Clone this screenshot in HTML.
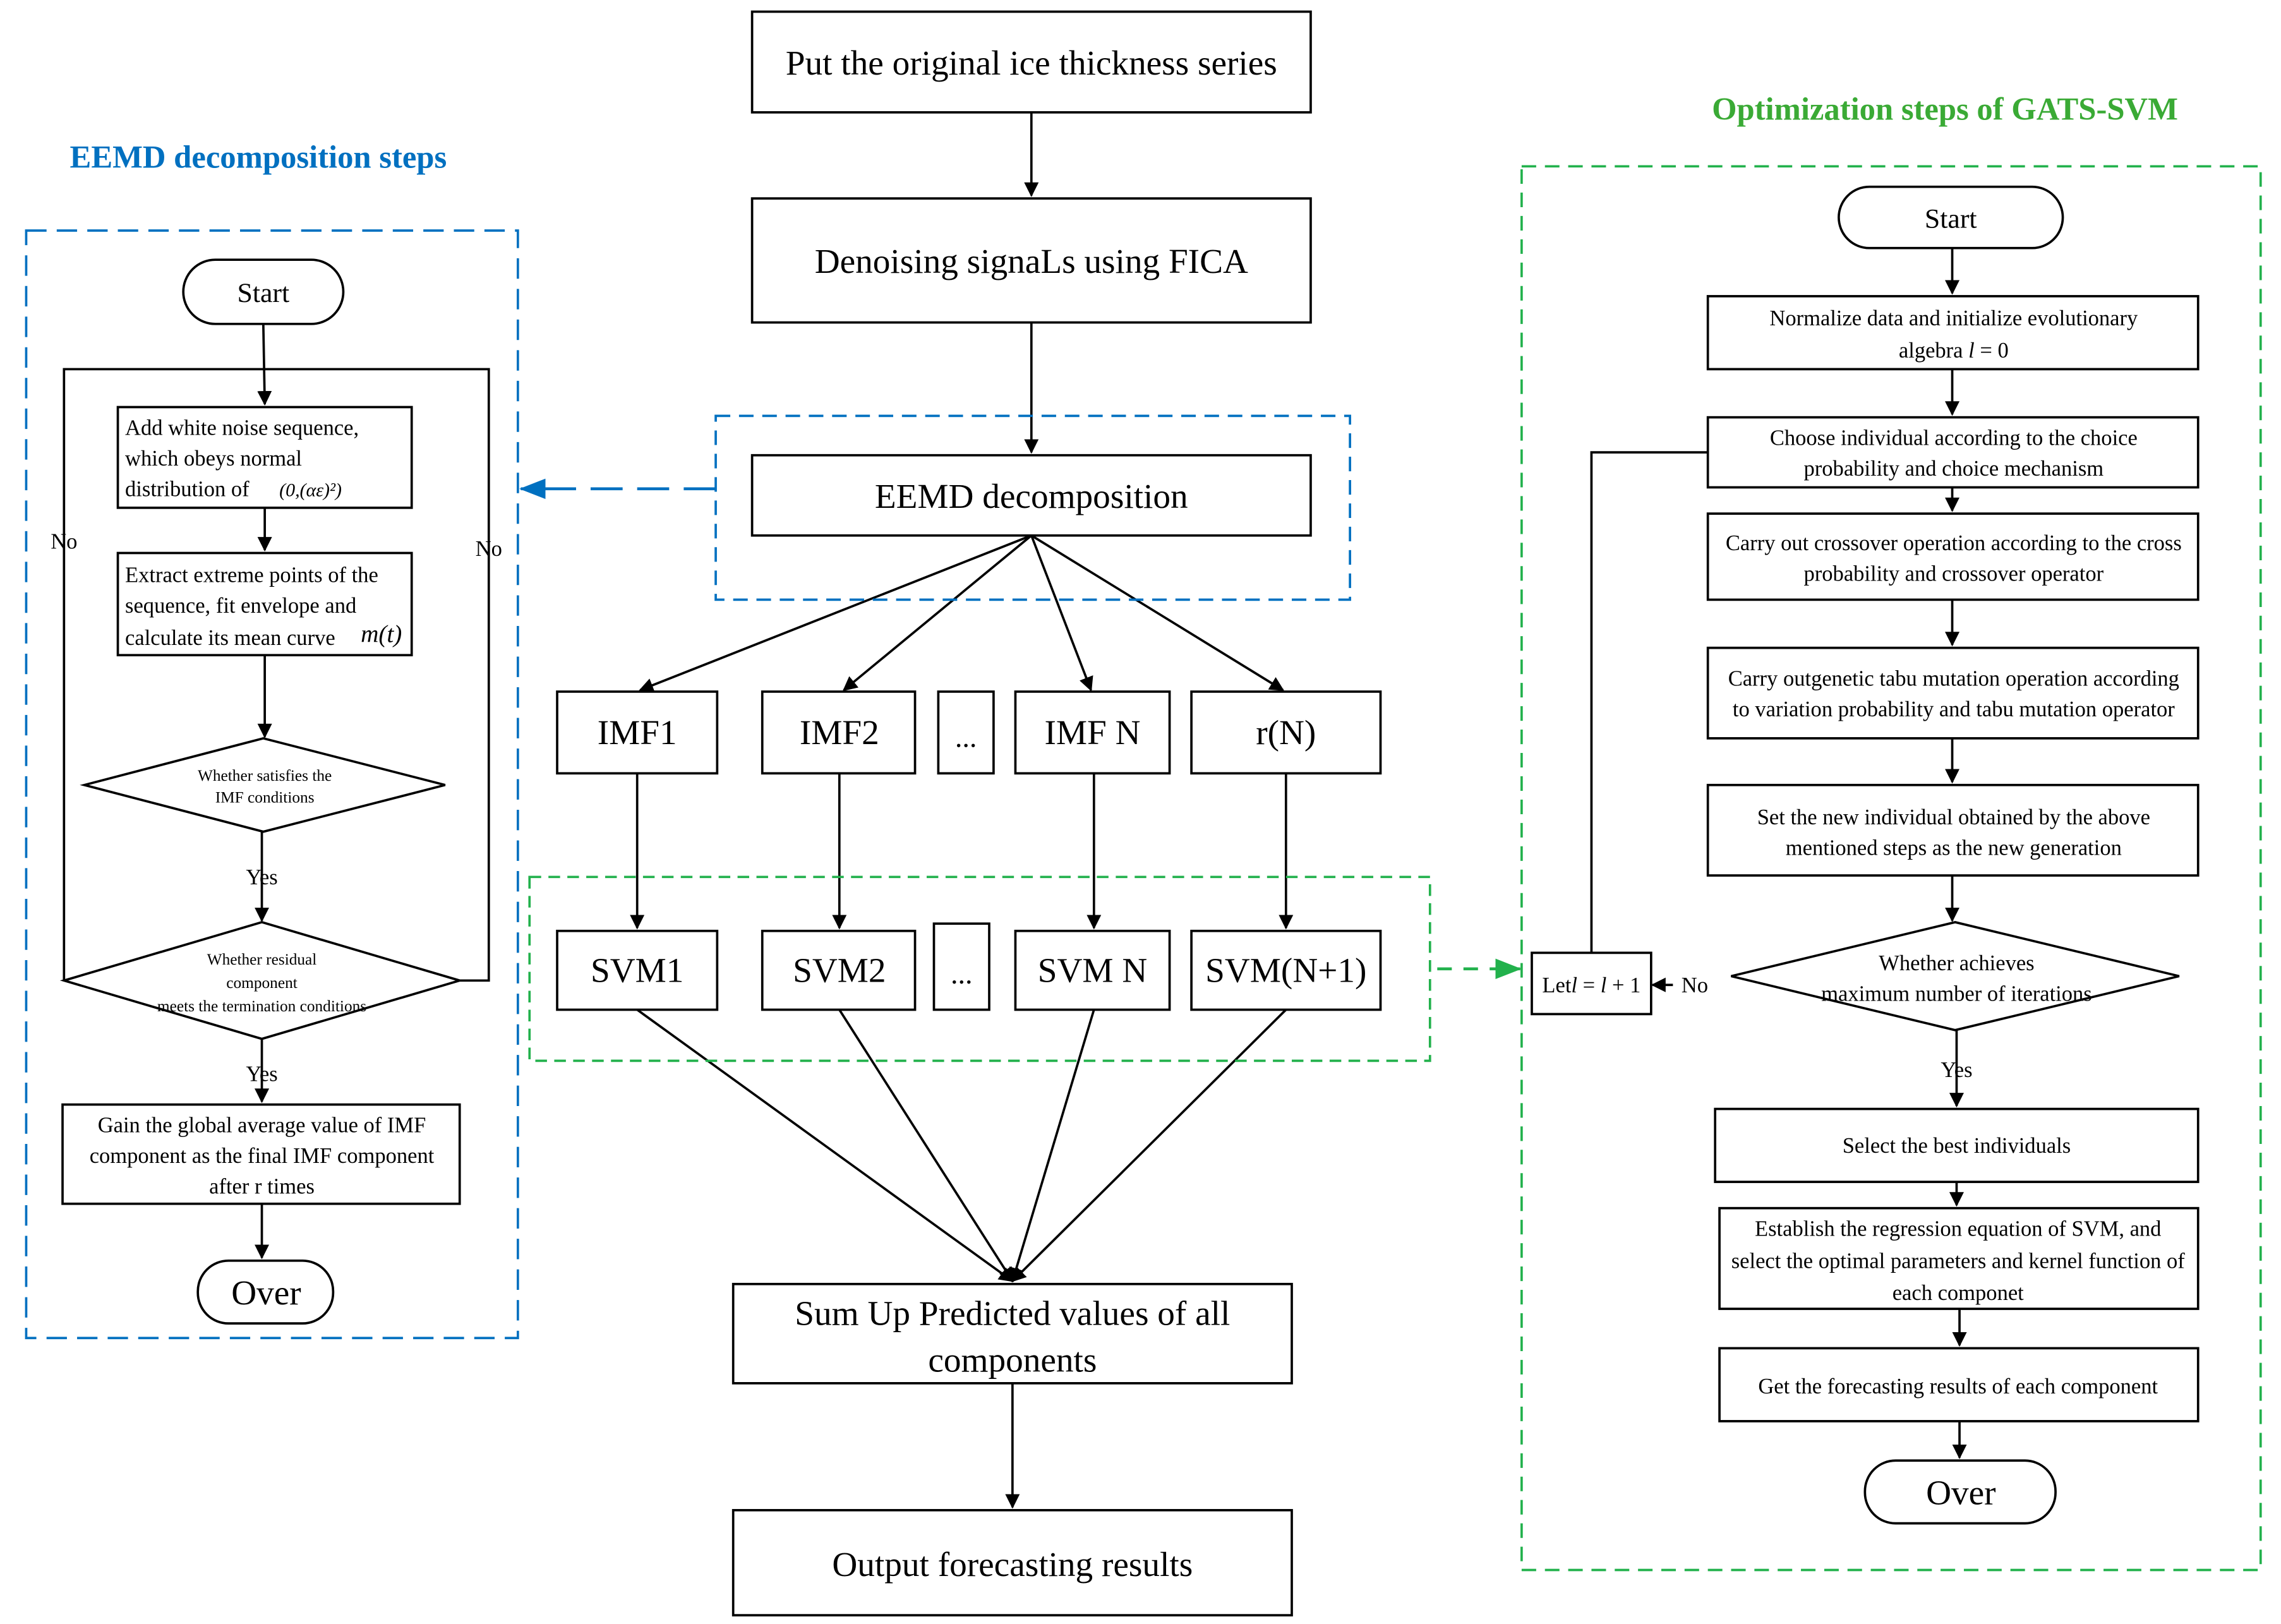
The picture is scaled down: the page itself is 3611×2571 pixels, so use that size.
<!DOCTYPE html>
<html><head><meta charset="utf-8"><style>
html,body{margin:0;padding:0;background:#fff;}
svg{display:block;}
text{font-family:"Liberation Serif",serif;fill:#000;}
</style></head><body>
<svg width="3611" height="2571" viewBox="0 0 1568 1113" preserveAspectRatio="none" xmlns="http://www.w3.org/2000/svg">
<defs>
<marker id="a" markerWidth="10" markerHeight="10" refX="9" refY="5" orient="auto" markerUnits="userSpaceOnUse"><path d="M0,0 L10,5 L0,10 z" fill="#000"/></marker>
<marker id="ab" markerWidth="18" markerHeight="14" refX="17" refY="7" orient="auto" markerUnits="userSpaceOnUse"><path d="M0,0 L18,7 L0,14 z" fill="#0070c0"/></marker>
<marker id="ag" markerWidth="18" markerHeight="14" refX="17" refY="7" orient="auto" markerUnits="userSpaceOnUse"><path d="M0,0 L18,7 L0,14 z" fill="#22b14c"/></marker>
</defs>
<g fill="none" stroke="#000" stroke-width="1.6">
<!-- center -->
<rect x="517" y="8" width="384" height="69"/>
<rect x="517" y="136" width="384" height="85"/>
<rect x="517" y="312" width="384" height="55"/>
<rect x="383" y="474" width="110" height="56"/>
<rect x="524" y="474" width="105" height="56"/>
<rect x="645" y="474" width="38" height="56"/>
<rect x="698" y="474" width="106" height="56"/>
<rect x="819" y="474" width="130" height="56"/>
<rect x="383" y="638" width="110" height="54"/>
<rect x="524" y="638" width="105" height="54"/>
<rect x="642" y="633" width="38" height="59"/>
<rect x="698" y="638" width="106" height="54"/>
<rect x="819" y="638" width="130" height="54"/>
<rect x="504" y="880" width="384" height="68"/>
<rect x="504" y="1035" width="384" height="72"/>
<line x1="709" y1="77" x2="709" y2="134" marker-end="url(#a)"/>
<line x1="709" y1="221" x2="709" y2="310" marker-end="url(#a)"/>
<line x1="709" y1="367" x2="440" y2="473" marker-end="url(#a)"/>
<line x1="709" y1="367" x2="580" y2="473" marker-end="url(#a)"/>
<line x1="709" y1="367" x2="750" y2="473" marker-end="url(#a)"/>
<line x1="709" y1="367" x2="882" y2="473" marker-end="url(#a)"/>
<line x1="438" y1="530" x2="438" y2="636" marker-end="url(#a)"/>
<line x1="577" y1="530" x2="577" y2="636" marker-end="url(#a)"/>
<line x1="752" y1="530" x2="752" y2="636" marker-end="url(#a)"/>
<line x1="884" y1="530" x2="884" y2="636" marker-end="url(#a)"/>
<line x1="438" y1="692" x2="696" y2="878" marker-end="url(#a)"/>
<line x1="577" y1="692" x2="696" y2="878" marker-end="url(#a)"/>
<line x1="752" y1="692" x2="696" y2="878" marker-end="url(#a)"/>
<line x1="884" y1="692" x2="696" y2="878" marker-end="url(#a)"/>
<line x1="696" y1="948" x2="696" y2="1033" marker-end="url(#a)"/>
<!-- left -->
<rect x="126" y="178" width="110" height="44" rx="22"/>
<rect x="81" y="279" width="202" height="69"/>
<rect x="81" y="379" width="202" height="70"/>
<polygon points="58,538 181,506 306,538 181,570"/>
<polygon points="44,672 180,632 316,672 180,712"/>
<rect x="43" y="757" width="273" height="68"/>
<rect x="136" y="864" width="93" height="43" rx="21"/>
<line x1="181" y1="222" x2="182" y2="277" marker-end="url(#a)"/>
<line x1="182" y1="348" x2="182" y2="377" marker-end="url(#a)"/>
<line x1="182" y1="449" x2="182" y2="505" marker-end="url(#a)"/>
<line x1="180" y1="570" x2="180" y2="631" marker-end="url(#a)"/>
<line x1="180" y1="712" x2="180" y2="755" marker-end="url(#a)"/>
<line x1="180" y1="825" x2="180" y2="862" marker-end="url(#a)"/>
<polyline points="44,672 44,253 181,253"/>
<polyline points="316,672 336,672 336,253 181,253"/>
<!-- right -->
<rect x="1264" y="128" width="154" height="42" rx="21"/>
<rect x="1174" y="203" width="337" height="50"/>
<rect x="1174" y="286" width="337" height="48"/>
<rect x="1174" y="352" width="337" height="59"/>
<rect x="1174" y="444" width="337" height="62"/>
<rect x="1174" y="538" width="337" height="62"/>
<polygon points="1190,669 1344,632 1498,669 1344,706"/>
<rect x="1053" y="653" width="82" height="42"/>
<rect x="1179" y="760" width="332" height="50"/>
<rect x="1182" y="828" width="329" height="69"/>
<rect x="1182" y="924" width="329" height="50"/>
<rect x="1282" y="1001" width="131" height="43" rx="21"/>
<line x1="1342" y1="170" x2="1342" y2="201" marker-end="url(#a)"/>
<line x1="1342" y1="253" x2="1342" y2="284" marker-end="url(#a)"/>
<line x1="1342" y1="334" x2="1342" y2="350" marker-end="url(#a)"/>
<line x1="1342" y1="411" x2="1342" y2="442" marker-end="url(#a)"/>
<line x1="1342" y1="506" x2="1342" y2="536" marker-end="url(#a)"/>
<line x1="1342" y1="600" x2="1342" y2="631" marker-end="url(#a)"/>
<line x1="1345" y1="706" x2="1345" y2="758" marker-end="url(#a)"/>
<line x1="1345" y1="810" x2="1345" y2="826" marker-end="url(#a)"/>
<line x1="1347" y1="897" x2="1347" y2="922" marker-end="url(#a)"/>
<line x1="1347" y1="974" x2="1347" y2="999" marker-end="url(#a)"/>
<line x1="1150" y1="675" x2="1136" y2="675" marker-end="url(#a)"/>
<polyline points="1094,653 1094,310 1174,310"/>
</g>
<!-- dashed -->
<g fill="none" stroke-width="1.6">
<rect x="492" y="285" width="436" height="126" stroke="#0070c0" stroke-dasharray="10,6"/>
<rect x="18" y="158" width="338" height="759" stroke="#0070c0" stroke-dasharray="14,7"/>
<line x1="492" y1="335" x2="358" y2="335" stroke="#0070c0" stroke-width="2" stroke-dasharray="22,10" marker-end="url(#ab)"/>
<rect x="364" y="601" width="619" height="126" stroke="#22b14c" stroke-dasharray="8,5"/>
<rect x="1046" y="114" width="508" height="962" stroke="#22b14c" stroke-dasharray="10,6"/>
<line x1="988" y1="664" x2="1045" y2="664" stroke="#22b14c" stroke-width="2" stroke-dasharray="10,8" marker-end="url(#ag)"/>
</g>
<!-- text center -->
<g font-size="24" text-anchor="middle">
<text x="709" y="51">Put the original ice thickness series</text>
<text x="709" y="187">Denoising signaLs using FICA</text>
<text x="709" y="348">EEMD decomposition</text>
<text x="438" y="510">IMF1</text>
<text x="577" y="510">IMF2</text>
<text x="664" y="512" font-size="20">...</text>
<text x="751" y="510">IMF N</text>
<text x="884" y="510">r(N)</text>
<text x="438" y="673">SVM1</text>
<text x="577" y="673">SVM2</text>
<text x="661" y="674" font-size="20">...</text>
<text x="751" y="673">SVM N</text>
<text x="884" y="673">SVM(N+1)</text>
<text x="696" y="908">Sum Up Predicted values  of all</text>
<text x="696" y="940">components</text>
<text x="696" y="1080">Output forecasting results</text>
</g>
<!-- left text -->
<text x="48" y="115" font-size="22" font-weight="bold" style="fill:#0070c0">EEMD decomposition steps</text>
<g font-size="15">
<text x="181" y="207" font-size="19" text-anchor="middle">Start</text>
<text x="86" y="298">Add white noise sequence,</text>
<text x="86" y="319">which obeys normal</text>
<text x="86" y="340">distribution of</text>
<text x="192" y="340" font-style="italic" font-size="13">(0,(αε)²)</text>
<text x="86" y="399">Extract extreme points of the</text>
<text x="86" y="420">sequence, fit envelope and</text>
<text x="86" y="442">calculate its mean curve</text>
<text x="248" y="440" font-style="italic" font-size="17">m(t)</text>
<text x="182" y="535" font-size="11" text-anchor="middle">Whether satisfies the</text>
<text x="182" y="550" font-size="11" text-anchor="middle">IMF conditions</text>
<text x="180" y="606" text-anchor="middle">Yes</text>
<text x="180" y="661" font-size="11" text-anchor="middle">Whether residual</text>
<text x="180" y="677" font-size="11" text-anchor="middle">component</text>
<text x="180" y="693" font-size="11" text-anchor="middle">meets the termination conditions</text>
<text x="180" y="741" text-anchor="middle">Yes</text>
<text x="44" y="376" text-anchor="middle">No</text>
<text x="336" y="381" text-anchor="middle">No</text>
<text x="180" y="776" text-anchor="middle">Gain the global average value of IMF</text>
<text x="180" y="797" text-anchor="middle">component as  the final IMF component</text>
<text x="180" y="818" text-anchor="middle">after r times</text>
<text x="183" y="894" font-size="24" text-anchor="middle">Over</text>
</g>
<!-- right text -->
<text x="1337" y="82" font-size="22" font-weight="bold" text-anchor="middle" style="fill:#3aaa35">Optimization steps of GATS-SVM</text>
<g font-size="15" text-anchor="middle">
<text x="1341" y="156" font-size="19">Start</text>
<text x="1343" y="223">Normalize data and initialize  evolutionary</text>
<text x="1343" y="245">algebra     <tspan font-style="italic">l</tspan> = 0</text>
<text x="1343" y="305">Choose individual according to the choice</text>
<text x="1343" y="326">probability and choice mechanism</text>
<text x="1343" y="377">Carry out  crossover operation according to the cross</text>
<text x="1343" y="398">probability and  crossover operator</text>
<text x="1343" y="470">Carry outgenetic tabu mutation operation according</text>
<text x="1343" y="491">to variation probability and tabu mutation operator</text>
<text x="1343" y="565">Set the new individual obtained by the above</text>
<text x="1343" y="586">mentioned steps as the new generation</text>
<text x="1345" y="665">Whether achieves</text>
<text x="1345" y="686">maximum number of iterations</text>
<text x="1094" y="680">Let<tspan font-style="italic">l</tspan> = <tspan font-style="italic">l</tspan> + 1</text>
<text x="1165" y="680">No</text>
<text x="1345" y="738">Yes</text>
<text x="1345" y="790">Select the best individuals</text>
<text x="1346" y="847">Establish the regression equation of SVM, and</text>
<text x="1346" y="869">select the optimal parameters and kernel function of</text>
<text x="1346" y="891">each componet</text>
<text x="1346" y="955">Get the forecasting results of each component</text>
<text x="1348" y="1031" font-size="24">Over</text>
</g>
</svg>
</body></html>
